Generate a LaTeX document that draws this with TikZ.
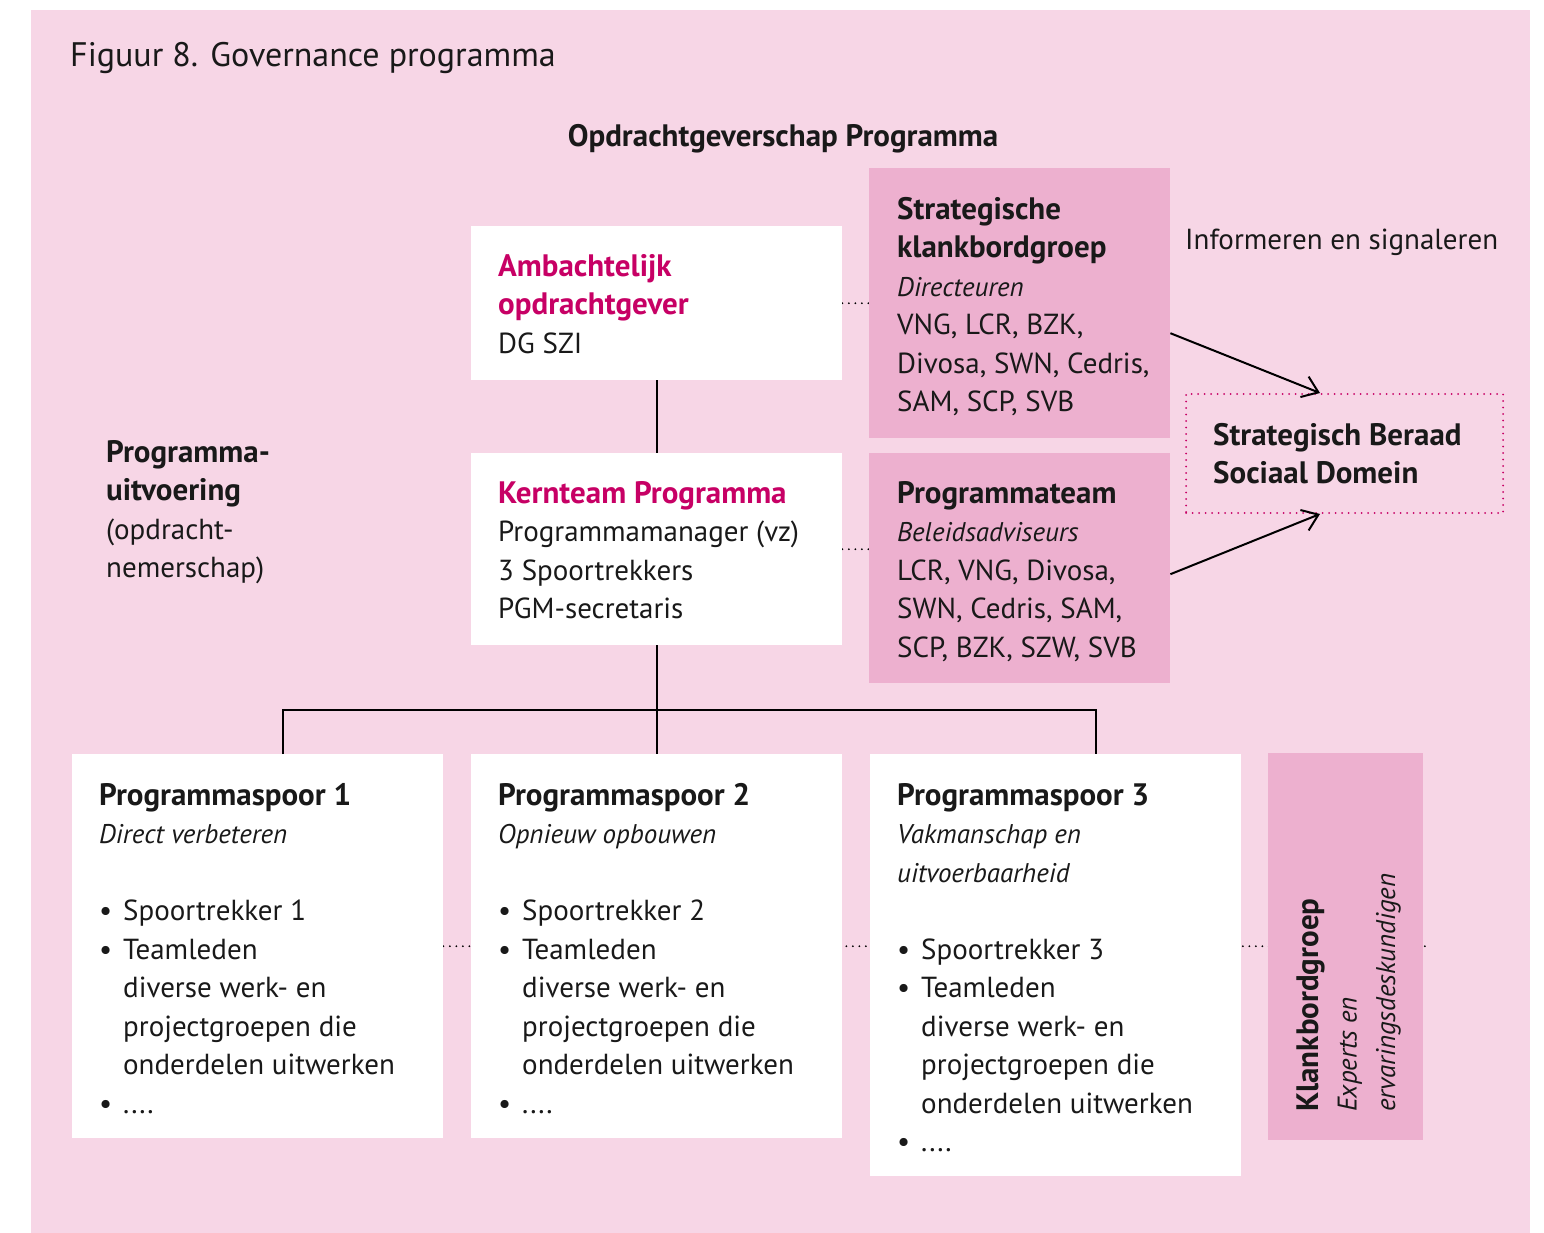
\documentclass[tikz,border=0pt]{standalone}
\usepackage{fontspec}
\setmainfont{PT Sans}
\usetikzlibrary{arrows.meta,calc,backgrounds}
\definecolor{bgpink}{RGB}{247,214,230}
\definecolor{boxpink}{RGB}{237,176,207}
\definecolor{mag}{RGB}{199,0,101}
\newcommand\bulx{\makebox[24pt][l]{\textbullet}}
\newcommand\indx{\hspace*{24pt}}
\newcommand\hd[1]{{\fontsize{31}{38.5}\selectfont\bfseries #1}}
\newcommand\ix[1]{{\fontsize{27}{38.5}\selectfont\itshape #1}}
\begin{document}
\begin{tikzpicture}[x=1pt,y=-1pt,
  wbox/.style={fill=white, draw=none, rectangle, anchor=north west, inner sep=0pt},
  pbox/.style={fill=boxpink, draw=none, rectangle, anchor=north west, inner sep=0pt},
  txt/.style={anchor=base west, align=left, inner sep=0pt, text=black!90, font=\fontsize{29}{38.5}\selectfont},
  conn/.style={line width=2pt, black},
  dotline/.style={line width=2pt, dash pattern=on 0pt off 6.5pt, line cap=round},
  arr/.style={conn, -{Straight Barb[length=15pt,width=22pt]}}]
\useasboundingbox (0,0) rectangle (1544,1233);

% boxes
\node[wbox, minimum width=371pt, minimum height=154pt] (amb) at (471,226) {};
\node[wbox, minimum width=371pt, minimum height=192pt] (kern) at (471,453) {};
\node[pbox, minimum width=301pt, minimum height=270pt] (skg) at (869,168) {};
\node[pbox, minimum width=301pt, minimum height=230pt] (pteam) at (869,453) {};
\node[draw=mag, dotline, rectangle, anchor=north west, inner sep=0pt, minimum width=317pt, minimum height=119pt] (sbsd) at (1185,393) {};
\node[wbox, minimum width=371pt, minimum height=384pt] (sp1) at (72,754) {};
\node[wbox, minimum width=371pt, minimum height=384pt] (sp2) at (471,754) {};
\node[wbox, minimum width=371pt, minimum height=422pt] (sp3) at (870,754) {};
\node[pbox, minimum width=155pt, minimum height=387pt] (kbg) at (1268,753) {};

\begin{pgfonlayer}{background}
  \fill[bgpink] (31,10) rectangle (1530,1233);
  \draw[dotline] (amb.east) -- (amb.east -| skg.west);
  \draw[dotline] (kern.east) -- (kern.east -| pteam.west);
  \coordinate (dotend) at ($(sp1.east -| kbg.east)+(3,0)$);
  \draw[dotline] (sp1.east) -- (dotend);
\end{pgfonlayer}

% connectors
\draw[conn] (amb.south) -- (kern.north);
\draw[conn] (kern.south) -- (sp2.north);
\coordinate (d1) at (283,754);
\coordinate (d3) at (1096,754);
\coordinate (bus) at (656,710);
\draw[conn] (d1) |- (bus) -| (d3);
\draw[arr] ($(skg.east)+(0,30)$) -- ($(sbsd.north west)+(135,0)$);
\draw[arr] ($(pteam.east)+(0,6)$) -- ($(sbsd.south west)+(135,0)$);

% texts (anchor = baseline of the last line)
\node[anchor=base west, inner sep=0pt, text=black!90, font=\fontsize{34}{40}\selectfont] (title) at (70,67) {Figuur 8. Governance programma};
\node[anchor=base, inner sep=0pt, text=black!90, font=\fontsize{31}{38.5}\selectfont\bfseries] (opdr) at (783,147) {Opdrachtgeverschap Programma};
\node[txt] (infor) at (1185,250) {Informeren en signaleren};
\node[txt] (pu) at (106,577.5) {\hd{Programma-}\\ \hd{uitvoering}\\ (opdracht-\\ nemerschap)};

\node[txt] (ambt) at (498,353) {\textcolor{mag}{\hd{Ambachtelijk}}\\ \textcolor{mag}{\hd{opdrachtgever}}\\ DG SZI};
\node[txt] (kernt) at (498,618.5) {\textcolor{mag}{\hd{Kernteam Programma}}\\ Programmamanager (vz)\\ 3 Spoortrekkers\\ PGM-secretaris};
\node[txt] (skgt) at (897,411.5) {\hd{Strategische}\\ \hd{klankbordgroep}\\ \ix{Directeuren}\\ VNG, LCR, BZK,\\ Divosa, SWN, Cedris,\\ SAM, SCP, SVB};
\node[txt] (pteamt) at (897,657) {\hd{Programmateam}\\ \ix{Beleidsadviseurs}\\ LCR, VNG, Divosa,\\ SWN, Cedris, SAM,\\ SCP, BZK, SZW, SVB};
\node[txt] (sbsdt) at (1213,483.5) {\hd{Strategisch Beraad}\\ \hd{Sociaal Domein}};

\node[txt] (sp1t) at (99,1113) {\hd{Programmaspoor 1}\\ \ix{Direct verbeteren}\\[38.5pt] \bulx Spoortrekker 1\\ \bulx Teamleden\\ \indx diverse werk- en\\ \indx projectgroepen die\\ \indx onderdelen uitwerken\\ \bulx ....};
\node[txt] (sp2t) at (498,1113) {\hd{Programmaspoor 2}\\ \ix{Opnieuw opbouwen}\\[38.5pt] \bulx Spoortrekker 2\\ \bulx Teamleden\\ \indx diverse werk- en\\ \indx projectgroepen die\\ \indx onderdelen uitwerken\\ \bulx ....};
\node[txt] (sp3t) at (897,1151.5) {\hd{Programmaspoor 3}\\ \ix{Vakmanschap en}\\ \ix{uitvoerbaarheid}\\[38.5pt] \bulx Spoortrekker 3\\ \bulx Teamleden\\ \indx diverse werk- en\\ \indx projectgroepen die\\ \indx onderdelen uitwerken\\ \bulx ....};
\node[txt, rotate=90] (kbgt) at (1395,1112) {\hd{Klankbordgroep}\\ \ix{Experts en}\\ \ix{ervaringsdeskundigen}};
\end{tikzpicture}
\end{document}
